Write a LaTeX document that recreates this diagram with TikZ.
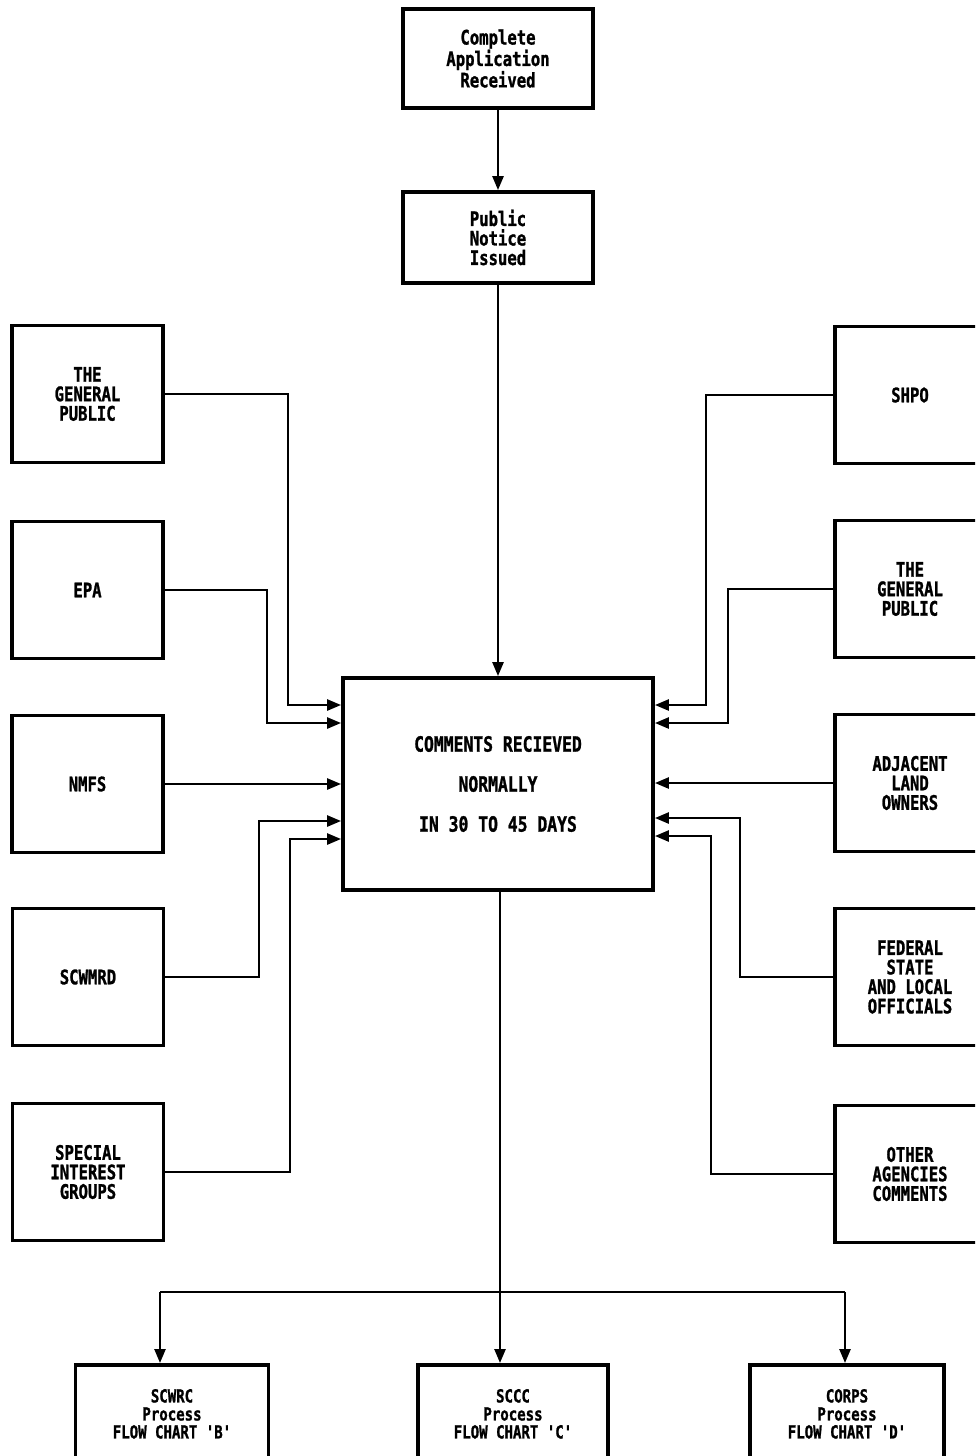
\documentclass[tikz,border=0pt]{standalone}
\usepackage{fontspec}
\usetikzlibrary{arrows.meta}
\newfontfamily\labfont[FakeStretch=0.78,FakeBold=1.2]{DejaVu Sans Mono}
\tikzset{
  box/.style={draw, line width=3.8pt, inner sep=0pt, align=center,
    font={\labfont\bfseries\fontsize{20}{19.5}\selectfont}},
  lbox/.style={box, minimum width=151pt, minimum height=137pt},
  bbox/.style={box, minimum height=98pt, anchor=north,
    font={\labfont\bfseries\fontsize{18}{18}\selectfont}},
  conn/.style={line width=2.5pt},
  arr/.style={conn, -{Triangle[length=14pt,width=11pt]}}
}
\begin{document}
\begin{tikzpicture}[x=1pt,y=-1pt]
\useasboundingbox (0,0) rectangle (975,1456);
\clip (0,0) rectangle (975,1456);
\fill[white] (0,0) rectangle (975,1456);
% top chain
\node[box, minimum width=190pt, minimum height=99pt] (top) at (498,58.5) {Complete\\Application\\Received};
\node[box, minimum width=190pt, minimum height=91pt] (pn) at (498,237.5) {Public\\Notice\\Issued};
\node[box, minimum width=310pt, minimum height=212pt,
  font={\labfont\bfseries\fontsize{21}{40}\selectfont}] (cen) at (498,784)
  {COMMENTS RECIEVED\\NORMALLY\\IN 30 TO 45 DAYS};
% left column
\node[lbox] (lgp) at (87.5,394) {THE\\GENERAL\\PUBLIC};
\node[lbox] (epa) at (87.5,590) {EPA};
\node[lbox] (nmfs) at (87.5,784) {NMFS};
\node[lbox] (scw) at (88,977) {SCWMRD};
\node[lbox] (sig) at (88,1172) {SPECIAL\\INTEREST\\GROUPS};
% right column
\node[lbox, minimum width=150pt] (shpo) at (910,395) {SHPO};
\node[lbox, minimum width=150pt] (rgp) at (910,589) {THE\\GENERAL\\PUBLIC};
\node[lbox, minimum width=150pt] (adj) at (910,783) {ADJACENT\\LAND\\OWNERS};
\node[lbox, minimum width=150pt] (fed) at (910,977) {FEDERAL\\STATE\\AND LOCAL\\OFFICIALS};
\node[lbox, minimum width=150pt] (oth) at (910,1174) {OTHER\\AGENCIES\\COMMENTS};
% bottom row
\node[bbox, minimum width=193pt] (b1) at (172,1363) {SCWRC\\Process\\FLOW CHART 'B'};
\node[bbox, minimum width=190pt] (b2) at (513,1363) {SCCC\\Process\\FLOW CHART 'C'};
\node[bbox, minimum width=194pt] (b3) at (847,1363) {CORPS\\Process\\FLOW CHART 'D'};
% vertical chain
\draw[arr] (top.south) -- (pn.north);
\draw[arr] (pn.south) -- (cen.north);
% left connectors
\draw[arr] (lgp.east) -| (288,705) -- (cen.west |- 0,705);
\draw[arr] (epa.east) -| (267,723) -- (cen.west |- 0,723);
\draw[arr] (nmfs.east) -- (cen.west |- nmfs.east);
\draw[arr] (scw.east) -| (259,821) -- (cen.west |- 0,821);
\draw[arr] (sig.east) -| (290,839) -- (cen.west |- 0,839);
% right connectors
\draw[arr] (shpo.west) -| (706,705) -- (cen.east |- 0,705);
\draw[arr] (rgp.west) -| (728,723) -- (cen.east |- 0,723);
\draw[arr] (adj.west) -- (cen.east |- adj.west);
\draw[arr] (fed.west) -| (740,818) -- (cen.east |- 0,818);
\draw[arr] (oth.west) -| (711,836) -- (cen.east |- 0,836);
% bottom distribution
\coordinate (jn) at (500,1292);
\coordinate (jl) at (160,1292);
\coordinate (jr) at (845,1292);
\draw[conn] (cen.south -| jn) -- (jn);
\draw[conn] (jl) -- (jr);
\draw[arr] (jl) -- (jl |- b1.north);
\draw[arr] (jn) -- (jn |- b2.north);
\draw[arr] (jr) -- (jr |- b3.north);
\end{tikzpicture}
\end{document}
